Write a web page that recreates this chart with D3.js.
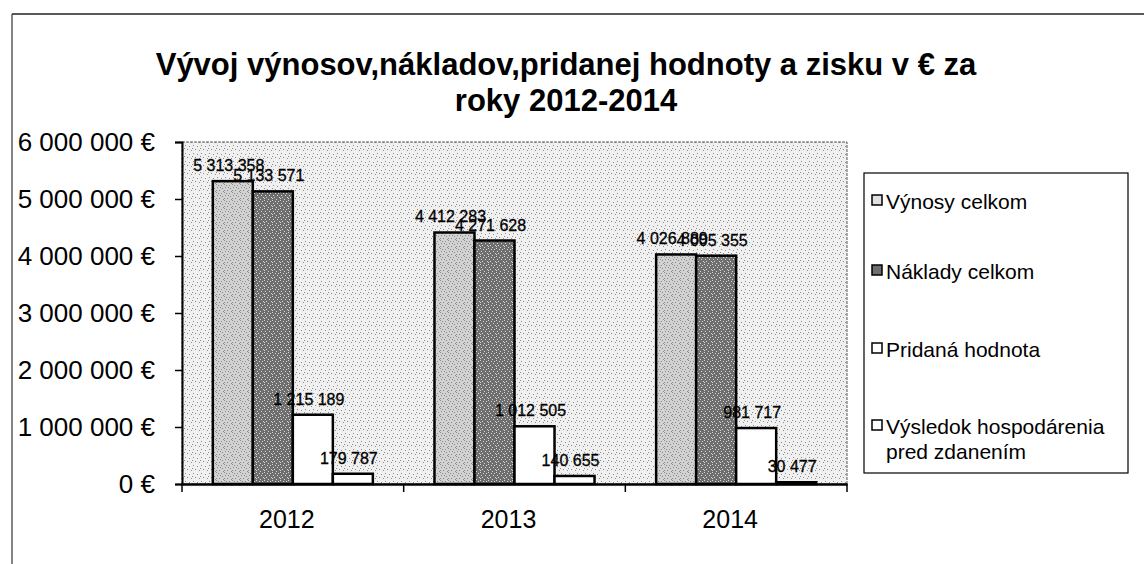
<!DOCTYPE html>
<html><head><meta charset="utf-8">
<script src="https://cdn.jsdelivr.net/npm/d3@7"></script>
<style>body{margin:0;background:#fff}svg{display:block}</style>
</head><body>
<svg id="c" width="1144" height="564"></svg>
<script>
const years = ["2012", "2013", "2014"];
const seriesNames = ["Výnosy celkom", "Náklady celkom", "Pridaná hodnota", "Výsledok hospodárenia pred zdanením"];
const vynosy = [5313358, 4412283, 4026889];
const naklady = [5133571, 4271628, 4005355];
const pridana = [1215189, 1012505, 981717];
const vysledok = [179787, 140655, 30477];
const yTicks = [0, 1000000, 2000000, 3000000, 4000000, 5000000, 6000000];
const titleLines = ["Vývoj výnosov,nákladov,pridanej hodnoty a zisku v € za", "roky 2012-2014"];

const values = [vynosy, naklady, pridana, vysledok];
const svg = d3.select("#c");
const FONT = "'Liberation Sans', Arial, sans-serif";

// patterns
const defs = svg.append("defs");
function pat(id, base, dots, col) {
  const p = defs.append("pattern").attr("id", id).attr("patternUnits", "userSpaceOnUse")
    .attr("width", 8).attr("height", 8);
  p.append("rect").attr("width", 8).attr("height", 8).attr("fill", base);
  dots.forEach(d => p.append("rect").attr("x", d[0]).attr("y", d[1]).attr("width", 1).attr("height", 1).attr("fill", col));
}
pat("bg", "#f0f0f0", [[1,1],[5,2],[3,5],[7,6],[0,4]], "#8a8a8a");
pat("p0", "#d2d2d2", [[0,0],[2,1],[5,1],[1,3],[4,3],[6,4],[3,6],[7,7],[0,6]], "#8c8c8c");
pat("p1", "#6e6e6e", [[0,0],[3,1],[6,1],[1,3],[5,3],[2,5],[7,5],[4,7],[0,6]], "#d8d8d8");
const fills = ["url(#p0)", "url(#p1)", "#ffffff", "#ffffff"];

// outer frame
svg.append("line").attr("x1", 12).attr("x2", 1144).attr("y1", 14).attr("y2", 14).attr("stroke", "#222").attr("stroke-width", 1.5);
svg.append("line").attr("x1", 12).attr("x2", 12).attr("y1", 14).attr("y2", 564).attr("stroke", "#333").attr("stroke-width", 1.2);

// title
svg.append("g").selectAll("text").data(titleLines).join("text")
  .attr("x", 566).attr("y", (d, i) => 75 + i * 36)
  .attr("text-anchor", "middle").attr("font-family", FONT).attr("font-weight", "bold")
  .attr("font-size", 31).attr("fill", "#000").text(d => d);

const L = 182, R = 847, T = 142, B = 484;
const x = d3.scaleBand().domain(years).range([L, R]);
const xs = d3.scaleBand().domain(d3.range(4)).range([0, x.bandwidth()]).paddingOuter(0.77).paddingInner(0);
const y = d3.scaleLinear().domain([0, 6000000]).range([B, T]);

// plot area
svg.append("rect").attr("x", L).attr("y", T).attr("width", R - L).attr("height", B - T)
  .attr("fill", "url(#bg)").attr("stroke", "#555").attr("stroke-width", 1).attr("stroke-dasharray", "3,1");

// bars
const g = svg.append("g");
years.forEach((yr, i) => {
  values.forEach((arr, s) => {
    const v = arr[i];
    g.append("rect")
      .attr("x", x(yr) + xs(s)).attr("y", y(v))
      .attr("width", xs.bandwidth()).attr("height", B - y(v))
      .attr("fill", fills[s]).attr("stroke", "#000").attr("stroke-width", 2.5);
  });
});
// labels
const fmt = v => d3.format(",")(v).replace(/,/g, " ");
years.forEach((yr, i) => {
  values.forEach((arr, s) => {
    const v = arr[i];
    g.append("text")
      .attr("x", x(yr) + xs(s) + xs.bandwidth() / 2 - 4).attr("y", y(v) - 10)
      .attr("text-anchor", "middle").attr("font-family", FONT).attr("font-size", 16)
      .attr("fill", "#000").attr("stroke", "#000").attr("stroke-width", 0.3).text(fmt(v));
  });
});

// axes
const yAxis = d3.axisLeft(y).tickValues(yTicks).tickSize(7).tickPadding(20).tickFormat(d => fmt(d) + " €");
const ya = svg.append("g").attr("transform", `translate(${L},0)`).call(yAxis);
ya.select(".domain").attr("stroke", "#000").attr("stroke-width", 2);
ya.selectAll(".tick line").attr("stroke", "#000").attr("stroke-width", 1.5);
ya.selectAll(".tick text").attr("font-family", FONT).attr("font-size", 26).attr("fill", "#000");

const xAxis = d3.axisBottom(x).tickSize(0).tickPadding(26);
const xa = svg.append("g").attr("transform", `translate(0,${B})`).call(xAxis);
xa.select(".domain").attr("stroke", "#000").attr("stroke-width", 2.5);
xa.selectAll(".tick text").attr("font-family", FONT).attr("font-size", 25).attr("fill", "#000").attr("dx", -6);
// category separator ticks
xa.append("g").selectAll("line").data([L, ...years.map(yr => x(yr) + x.bandwidth())]).join("line")
  .attr("x1", d => d).attr("x2", d => d).attr("y1", 0).attr("y2", 8).attr("stroke", "#000").attr("stroke-width", 1.5);

// legend
const lg = svg.append("g");
lg.append("rect").attr("x", 864).attr("y", 173).attr("width", 264).attr("height", 300)
  .attr("fill", "#fff").attr("stroke", "#000").attr("stroke-width", 1.2);
const legendY = [209, 279, 357, 434];
const legendFills = ["#e0e0e0", "#6e6e6e", "#fff", "#fff"];
seriesNames.forEach((nm, s) => {
  lg.append("rect").attr("x", 872).attr("y", legendY[s] - 14).attr("width", 10).attr("height", 10)
    .attr("fill", legendFills[s]).attr("stroke", "#000").attr("stroke-width", 1.5);
  const words = s === 3 ? ["Výsledok hospodárenia", "pred zdanením"] : [nm];
  words.forEach((w, k) => {
    lg.append("text").attr("x", 886).attr("y", legendY[s] + k * 25)
      .attr("font-family", FONT).attr("font-size", 21).attr("fill", "#000").text(w);
  });
});
</script>
</body></html>
